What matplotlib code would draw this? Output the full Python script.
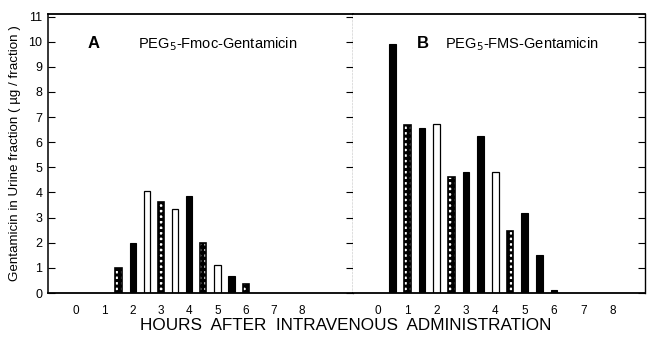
import numpy as np
import matplotlib
matplotlib.use("Agg")
import matplotlib.pyplot as plt

plt.rcParams['font.family'] = ['Liberation Sans', 'DejaVu Sans']
plt.rcParams['hatch.linewidth'] = 2.2

# panel A: PEG5-Fmoc-Gentamicin
hours_a = [1.5, 2.0, 2.5, 3.0, 3.5, 4.0, 4.5, 5.0, 5.5, 6.0]
values_a = [1.0, 2.0, 4.05, 3.62, 3.33, 3.85, 2.0, 1.12, 0.68, 0.37]
kind_a = ['check', 'black', 'open', 'check', 'open', 'black', 'check', 'open', 'black', 'check']

# panel B: PEG5-FMS-Gentamicin
hours_b = [0.5, 1.0, 1.5, 2.0, 2.5, 3.0, 3.5, 4.0, 4.5, 5.0, 5.5, 6.0]
values_b = [9.9, 6.7, 6.55, 6.72, 4.62, 4.82, 6.25, 4.8, 2.48, 3.18, 1.5, 0.13]
kind_b = ['black', 'check', 'black', 'open', 'check', 'black', 'black', 'open', 'check', 'black', 'black', 'black']

hour_ticks = [0, 1, 2, 3, 4, 5, 6, 7, 8]
y_ticks = list(range(0, 12))

W = 0.22


def draw_bars(ax, hours, values, kinds):
    for h, v, k in zip(hours, values, kinds):
        if k == 'black':
            ax.bar(h, v, width=W, color='black', edgecolor='black', linewidth=0.8)
        elif k == 'check':
            # white squares in a black grid
            ax.bar(h, v, width=W, color='white', edgecolor='black', hatch='+++', linewidth=0)
            ax.bar(h, v, width=W, fill=False, edgecolor='black', linewidth=1.2)
        else:
            ax.bar(h, v, width=W, color='white', edgecolor='black', linewidth=0.9)


fig = plt.figure(figsize=(6.47, 3.37), dpi=100)
ax1 = fig.add_axes([48 / 647, 44 / 337, 305 / 647, 279 / 337])
ax2 = fig.add_axes([353 / 647, 44 / 337, 292 / 647, 279 / 337])

draw_bars(ax1, hours_a, values_a, kind_a)
draw_bars(ax2, hours_b, values_b, kind_b)

ax1.set_xlim(-1, 9.8)
ax2.set_xlim(-0.85, 9.1)
for ax in (ax1, ax2):
    ax.set_ylim(0, 11.1)
    ax.set_yticks(y_ticks)
    ax.set_xticks(hour_ticks)
    ax.tick_params(axis='x', length=0, pad=9, labelsize=8.5)
    for s in ('top', 'bottom'):
        ax.spines[s].set_linewidth(1.3)

ax1.tick_params(axis='y', direction='in', length=5, labelsize=9, pad=4,
                right=True, width=0.8)
ax1.spines['left'].set_linewidth(1.1)
ax1.spines['right'].set_linestyle(':')
ax1.spines['right'].set_linewidth(0.9)

ax2.spines['left'].set_visible(False)
ax2.spines['right'].set_linewidth(1.0)
ax2.tick_params(axis='y', direction='in', length=5, labelleft=False,
                left=False, right=True, width=0.8)

ax1.set_ylabel('Gentamicin in Urine fraction ( µg / fraction )', fontsize=9.6, labelpad=5)

ax1.text(0.13, 0.893, 'A', transform=ax1.transAxes, fontsize=12, fontweight='bold', va='center')
ax1.text(0.295, 0.893, 'PEG$_5$-Fmoc-Gentamicin', transform=ax1.transAxes, fontsize=10.5, va='center')
ax2.text(0.22, 0.893, 'B', transform=ax2.transAxes, fontsize=12, fontweight='bold', va='center')
ax2.text(0.315, 0.893, 'PEG$_5$-FMS-Gentamicin', transform=ax2.transAxes, fontsize=10.5, va='center')

fig.text(346 / 647, 1 - 326 / 337, 'HOURS  AFTER  INTRAVENOUS  ADMINISTRATION',
         ha='center', va='center', fontsize=12.3)

fig.savefig('out.png', dpi=100)
